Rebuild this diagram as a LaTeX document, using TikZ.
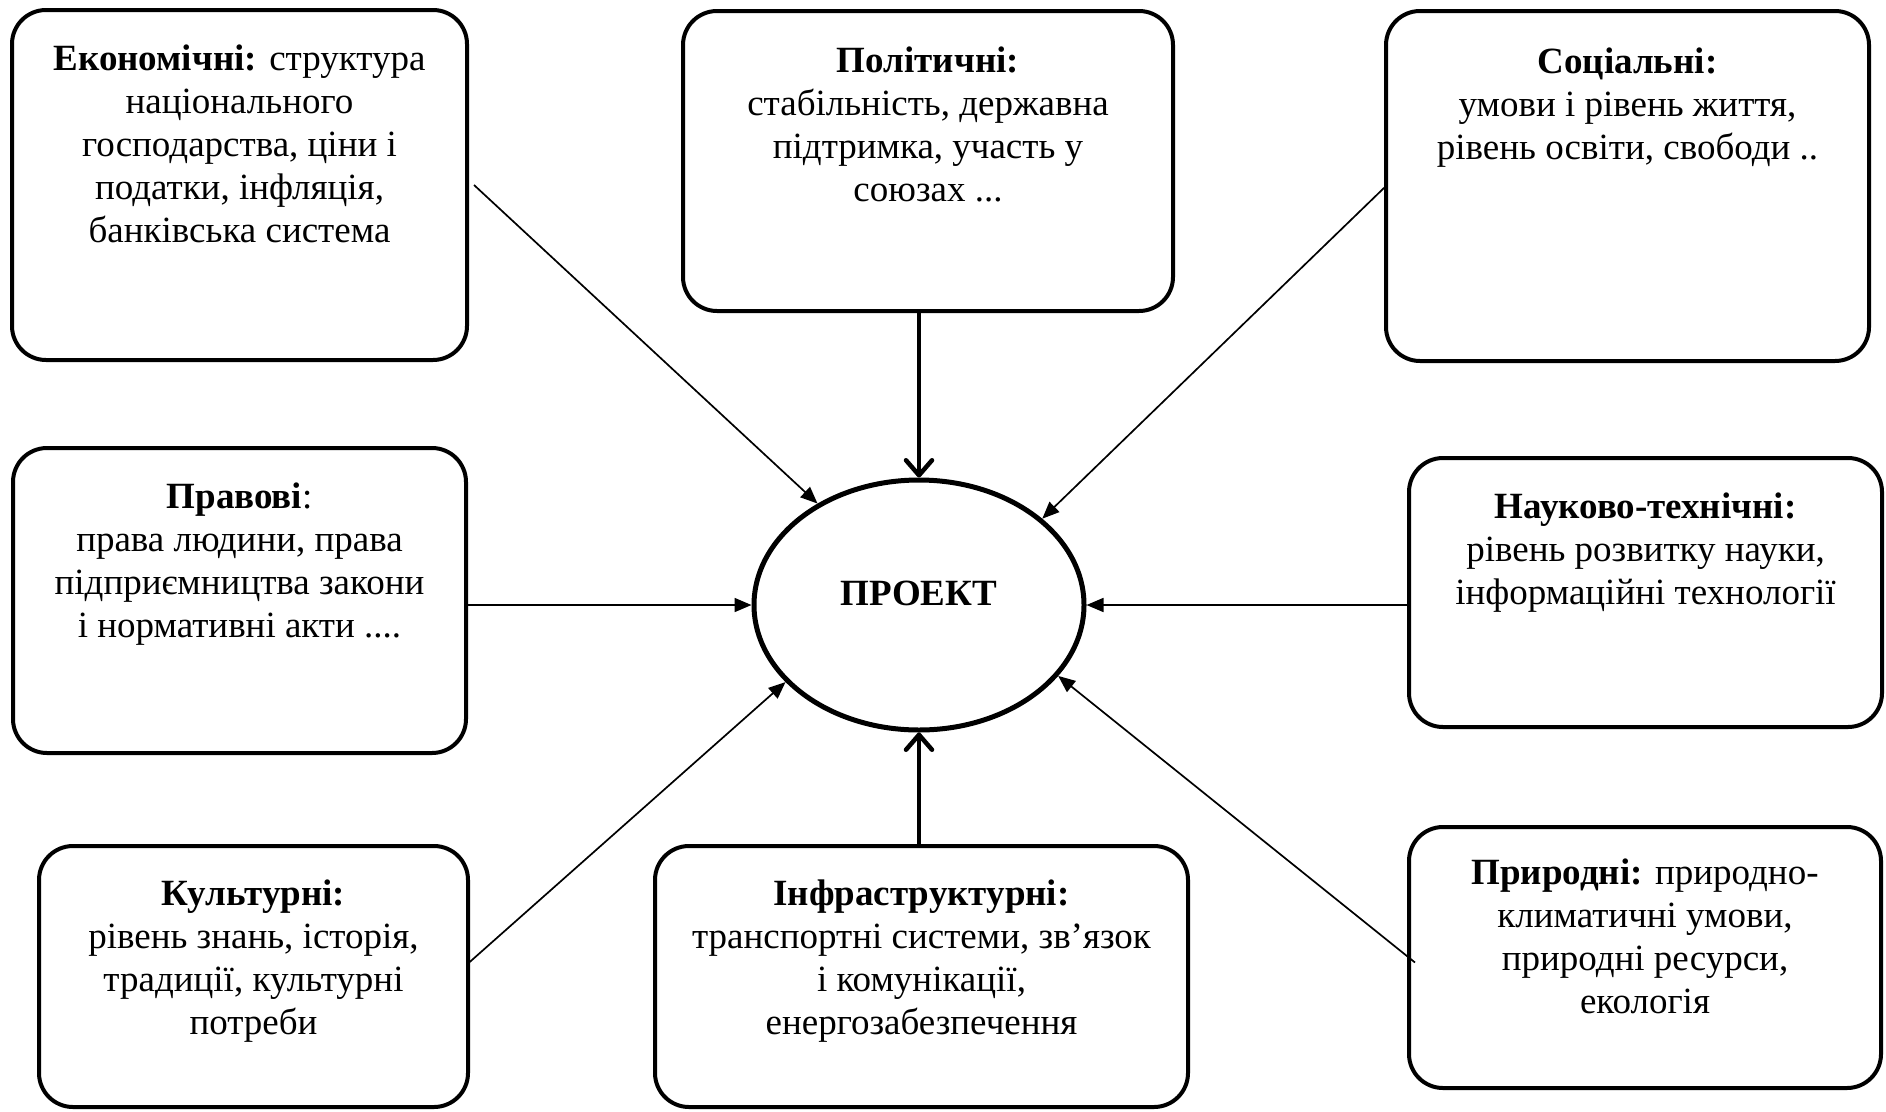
\documentclass[tikz,border=0pt]{standalone}
\usepackage{fontspec}
\setmainfont{Liberation Serif}
\usetikzlibrary{arrows.meta,shapes.geometric}
\begin{document}
\begin{tikzpicture}[x=1pt,y=-1pt,
  box/.style={draw, line width=4pt, rounded corners=34pt, inner sep=0pt, outer sep=0pt},
  txt/.style={align=center, inner sep=0pt, anchor=north, font=\fontsize{37pt}{43.1pt}\selectfont},
  farrow/.style={line width=1.7pt, -{Triangle[length=17pt,width=14pt]}},
  tarrow/.style={line width=4.5pt, -{Straight Barb[length=15pt,width=26pt,round]}}
]
\fill[white] (0,0) rectangle (1886,1111);
\useasboundingbox (0,0) rectangle (1886,1111);

% boxes
\node[box, minimum width=455pt, minimum height=350pt] (eco)  at (239.5,185) {};
\node[box, minimum width=490pt, minimum height=300pt] (pol)  at (928,161) {};
\node[box, minimum width=483pt, minimum height=350pt] (soc)  at (1627.5,186) {};
\node[box, minimum width=453pt, minimum height=305pt] (prav) at (239.5,600.5) {};
\node[box, minimum width=473pt, minimum height=269pt] (nauk) at (1645.5,592.5) {};
\node[box, minimum width=429pt, minimum height=261pt] (kult) at (253.5,976.5) {};
\node[box, minimum width=533pt, minimum height=261pt] (infr) at (921.5,976.5) {};
\node[box, minimum width=472pt, minimum height=261pt] (prir) at (1645,957.5) {};

% texts
\node[txt] (ecoT) at ([yshift=-30pt]eco.north) {\rule{0pt}{30pt}\textbf{Економічні:} структура\\ національного\\ господарства, ціни і\\ податки, інфляція,\\ банківська система};
\node[txt] (polT) at ([yshift=-31pt]pol.north) {\rule{0pt}{30pt}\textbf{Політичні:}\\ стабільність, державна\\ підтримка, участь у\\ союзах ...};
\node[txt] (socT) at ([yshift=-32pt]soc.north) {\rule{0pt}{30pt}\textbf{Соціальні:}\\ умови і рівень життя,\\ рівень освіти, свободи ..};
\node[txt] (pravT) at ([yshift=-30pt]prav.north) {\rule{0pt}{30pt}\textbf{Правові}:\\ права людини, права\\ підприємництва закони\\ і нормативні акти ....};
\node[txt] (naukT) at ([yshift=-30pt]nauk.north) {\rule{0pt}{30pt}\textbf{Науково-технічні:}\\ рівень розвитку науки,\\ інформаційні технології};
\node[txt] (kultT) at ([yshift=-29pt]kult.north) {\rule{0pt}{30pt}\textbf{Культурні:}\\ рівень знань, історія,\\ традиції, культурні\\ потреби};
\node[txt] (infrT) at ([yshift=-29pt]infr.north) {\rule{0pt}{30pt}\textbf{Інфраструктурні:}\\ транспортні системи, зв’язок\\ і комунікації,\\ енергозабезпечення};
\node[txt] (prirT) at ([yshift=-27pt]prir.north) {\rule{0pt}{30pt}\textbf{Природні:} природно-\\ климатичні умови,\\ природні ресурси,\\ екологія};

% centre
\node[draw, ellipse, line width=5pt, minimum width=330pt, minimum height=250pt, inner sep=0pt,
      text height=26pt, text depth=26pt, font=\fontsize{37pt}{43pt}\selectfont\bfseries] (proj) at (919,605) {ПРОЕКТ};

% connectors
\draw[tarrow] (proj.north |- pol.south) -- (proj.north);
\draw[tarrow] (proj.south |- infr.north) -- (proj.south);
\draw[farrow] ([xshift=7pt]eco.east) -- (proj.135);
\draw[farrow] (soc.west) -- (proj.35);
\draw[farrow] (prav.east |- proj.west) -- (proj.west);
\draw[farrow] (nauk.west |- proj.east) -- (proj.east);
\draw[farrow] ([yshift=13pt]kult.east) -- (proj.210);
\draw[farrow] ([xshift=6pt,yshift=-5pt]prir.west) -- (proj.333);
\end{tikzpicture}
\end{document}
